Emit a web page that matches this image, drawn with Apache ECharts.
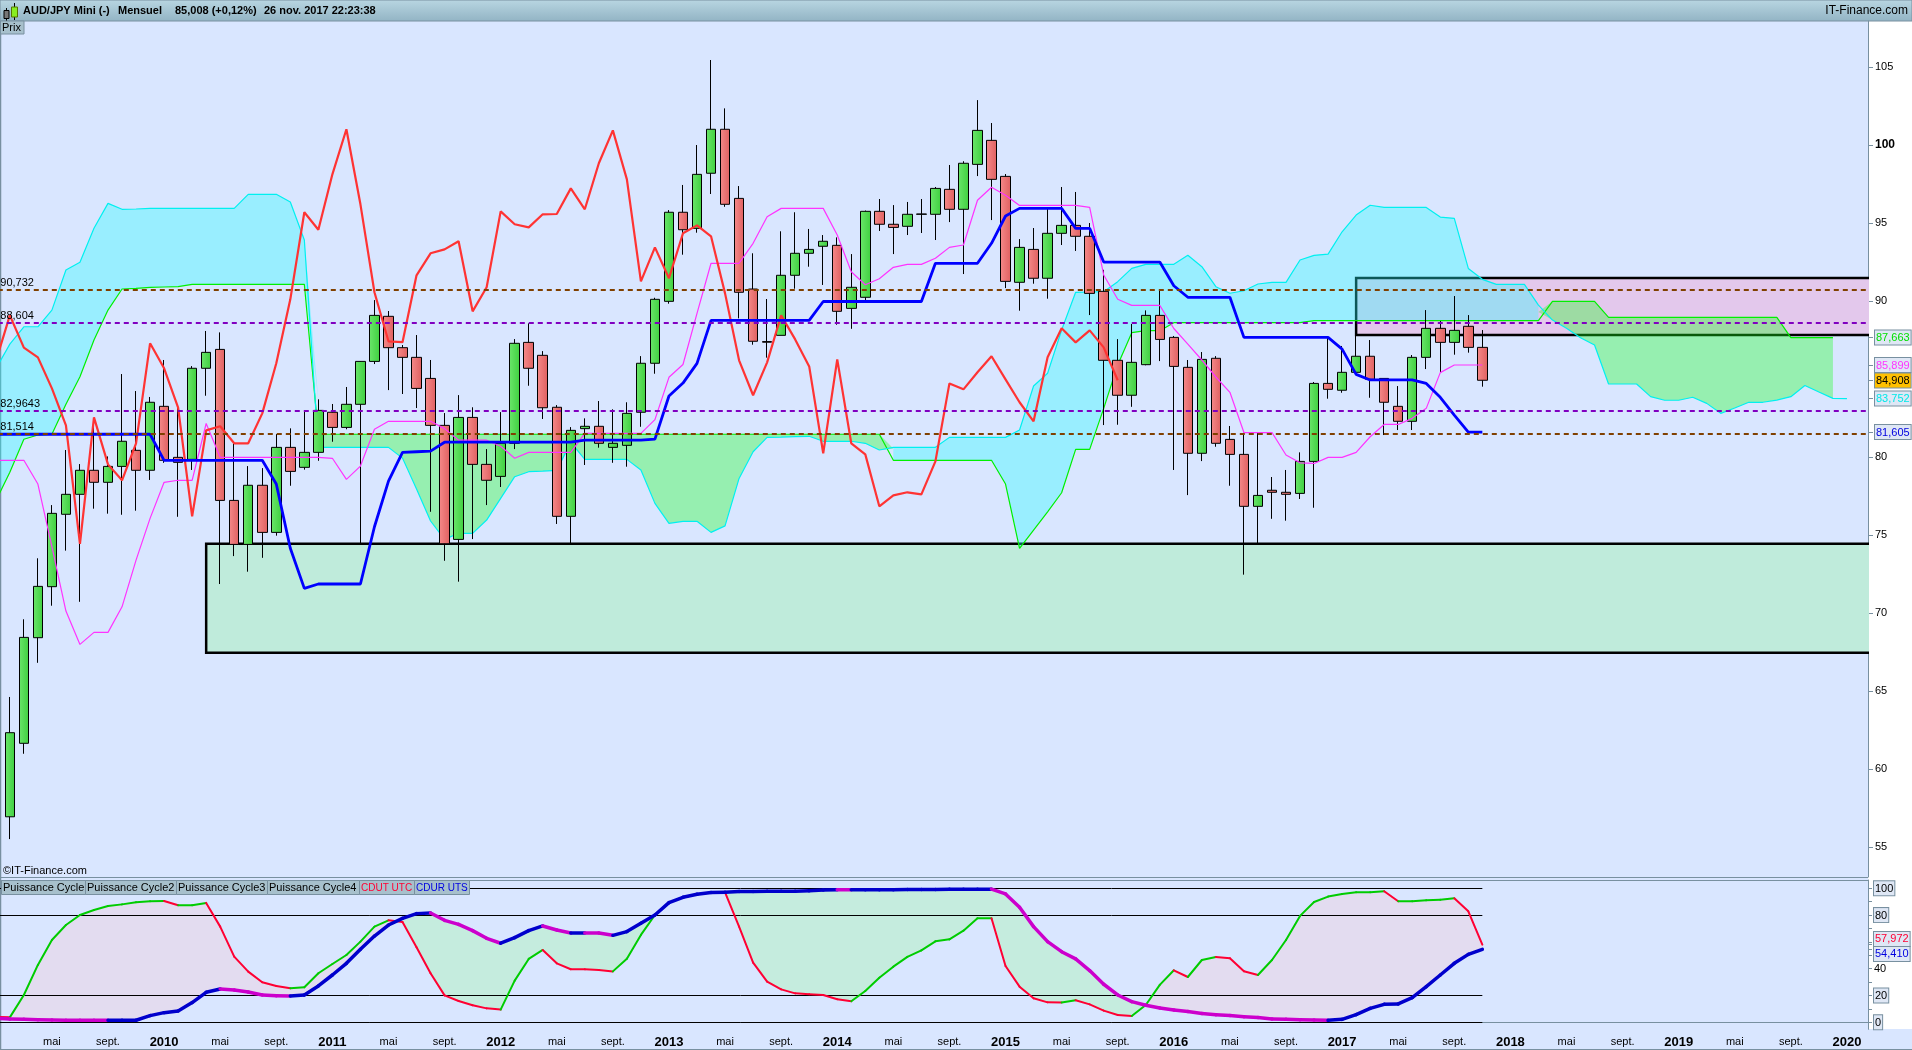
<!DOCTYPE html>
<html><head><meta charset="utf-8">
<style>html,body{margin:0;padding:0;background:#fff;overflow:hidden}#c{width:1912px;height:1050px}</style>
<script src="https://cdn.jsdelivr.net/npm/echarts@6/dist/echarts.min.js"></script>
</head><body><div id="c"></div>
<script>
// Month labels from Jan 2009 (first slot is just off the left edge) to Feb 2020
const firstYear = 2009, monthCount = 134;
const monthTickLabels = {0:'', 4:'mai', 8:'sept.'};

// Candles, one value per month from Feb 2009 to Nov 2017
const opens = [56.94,61.65,68.42,71.69,76.33,77.61,79.15,78.38,79.4,80.43,79.15,83.25,79.98,79.85,85.69,86.9,77.22,74.4,78.19,75.17,80.62,79.34,80.3,82.87,81.9,83.38,86.13,89.02,87.01,86.39,85.04,82.03,74.72,82.54,79.53,78.76,80.88,87.35,86.52,83.19,76.2,81.82,81.97,80.62,80.75,82.87,86.01,89.98,95.69,94.66,98.19,101.01,96.58,90.77,87.4,87.8,91.65,93.06,93.51,93.57,89.53,90.24,95.75,94.92,94.79,95.56,95.56,97.16,95.88,98.76,100.3,97.99,91.2,93.31,91.46,94.34,94.85,94.15,90.62,86.2,83.96,85.92,89.08,87.67,85.75,80.24,86.33,81.13,80.17,76.84,77.87,77.74,77.67,79.72,84.72,84.28,85.43,86.46,85.04,83.25,82.29,86.39,88.25,87.35,88.38,87.03];
const closes = [62.33,68.44,71.71,76.39,77.61,79.15,78.38,79.4,81.01,79.15,83.51,79.79,79.66,85.69,86.71,77.22,74.4,78.19,75.17,80.62,79.08,80.3,82.99,81.9,83.38,86.13,89.08,87.01,86.39,84.4,82.03,74.44,82.54,79.53,78.51,80.88,87.29,85.69,83.16,76.2,81.71,81.97,80.88,80.88,82.8,86.01,90.11,95.69,94.57,98.12,101.01,96.2,90.56,87.42,87.36,91.65,93.06,93.31,93.83,89.34,90.88,95.75,94.92,94.72,95.56,95.58,97.22,95.88,98.83,100.94,97.8,91.26,93.44,91.46,94.34,94.85,94.15,90.49,86.2,83.96,86.07,89.08,87.54,85.81,80.24,86.26,80.88,80.17,76.84,77.54,77.74,77.61,79.72,84.72,84.34,85.43,86.46,84.98,83.51,82.29,86.39,88.25,87.35,88.12,87.03,84.92];
const lows = [55.51,60.98,66.81,70.47,74,70.72,76.69,76.37,76.3,76.56,78.53,79.63,76.17,79.17,83.93,71.86,73.65,72.65,73.54,74.96,78.16,79.19,79.76,80.98,81.78,74.44,85.96,84.29,84.04,83.14,76.49,73.35,72.01,74.74,76.92,78.08,80.51,84.57,82.44,75.71,74.47,79.49,80.6,79.63,79.38,81.94,85.34,89.83,92.97,94.38,96.86,96.04,88.89,87.2,86.37,87.8,90.79,92.2,91.03,88.48,88.22,90.02,94.49,93.01,94.23,94.36,93.91,95.06,91.73,98.01,95.19,90.83,89.38,91.11,90.15,93.59,93.21,89.1,82.05,82.07,83.22,85.88,86.15,79.17,77.56,79.74,80.66,78.16,72.46,74.47,76.04,75.92,77.31,76.75,83.74,84.12,85.43,83.8,81.41,81.73,81.73,85.64,85.4,86.56,86.69,84.51];
const highs = [64.62,69.6,73.51,76.92,80.45,79.55,82.5,80.04,85.32,84.23,83.85,86.22,83.2,85.83,88.08,87.99,80.88,79.42,79.29,81.47,81.84,82.9,83.7,83.4,84.49,86.15,90.06,89.36,87.18,87.82,86.22,82.82,83.97,83.19,80.51,82.88,87.56,88.57,86.79,83.33,81.92,82.48,83.59,83.06,83.51,86.47,90.21,95.83,97.44,100,105.45,102.35,97.37,93.06,90.13,94.47,95.69,94.62,94.23,94.08,93.01,95.8,96.54,96.15,96.35,96.54,97.31,98.72,98.96,102.88,101.41,98.14,93.97,94.68,95.9,97.31,96.99,95,92,87.56,88.53,89.4,90.77,87.76,86.22,86.73,86.47,81.99,81.56,81.56,78.72,79.17,80.3,84.81,87.63,87.12,87.82,87.5,85.04,84.55,86.54,89.42,88.72,90.32,89.1,88.14];

// Indicator lines, starting at Jan 2009
const chikou = [86.13,89.08,87.01,86.39,84.4,82.03,74.44,82.54,79.53,78.51,80.88,87.29,85.69,83.16,76.2,81.71,81.97,80.88,80.88,82.8,86.01,90.11,95.69,94.57,98.12,101.01,96.2,90.56,87.42,87.36,91.65,93.06,93.31,93.83,89.34,90.88,95.75,94.92,94.72,95.56,95.58,97.22,95.88,98.83,100.94,97.8,91.26,93.44,91.46,94.34,94.85,94.15,90.49,86.2,83.96,86.07,89.08,87.54,85.81,80.24,86.26,80.88,80.17,76.84,77.54,77.74,77.61,79.72,84.72,84.34,85.43,86.46,84.98,83.51,82.29,86.39,88.25,87.35,88.12,87.03,84.92];
const tenkan = [79.79,79.79,79.79,78.27,74.25,70.13,67.99,68.76,68.76,70.4,73.39,76.07,78.38,78.51,78.51,82.15,79.98,79.98,79.98,79.98,79.98,79.98,79.98,79.98,79.92,78.57,79.42,81.78,82.29,82.29,82.29,82.29,81.82,81.08,81.08,81.08,80.69,79.92,80.3,80.3,80.3,80.3,81.52,81.52,81.52,81.52,81.52,82.4,85.11,85.93,89.21,92.42,92.42,92.42,93.7,95.4,95.94,95.94,95.94,95.94,94.23,91.88,91.04,91.43,92.16,92.35,92.35,92.74,93.44,93.59,96.46,97.29,96.78,96.13,96.13,96.13,96.13,96.13,96,91.67,90.11,89.72,89.72,89.72,88.24,87.24,86.22,85.13,84.15,81.57,81.57,81.57,80.13,79.63,79.59,79.98,79.98,80.3,81.3,82.09,82.09,82.48,83.12,85.41,85.9,85.9,85.9];
const kijun = [81.46,81.46,81.46,81.46,81.46,81.46,81.46,81.46,81.46,81.46,81.46,81.46,79.79,79.79,79.79,79.79,79.79,79.79,79.79,79.79,78.27,74.15,71.58,71.86,71.86,71.86,71.86,75.53,78.46,80.3,80.34,80.38,80.95,80.95,80.95,80.95,80.95,80.95,80.95,80.95,80.95,80.95,81.09,81.09,81.09,81.09,81.09,81.15,83.91,84.74,86,88.76,88.76,88.76,88.76,88.76,88.76,88.76,88.76,89.97,89.97,89.97,89.97,89.97,89.97,89.97,89.97,92.42,92.42,92.42,92.42,93.7,95.45,95.94,95.94,95.94,95.94,94.66,94.66,92.5,92.5,92.5,92.5,92.5,90.98,90.24,90.24,90.24,90.24,87.67,87.67,87.67,87.67,87.67,87.67,87.67,86.92,85.3,84.94,84.94,84.94,84.94,84.72,83.83,82.69,81.6,81.6];
const senkouA = [77.18,79.02,81.14,81.41,81.46,83.38,85.15,87.5,89.42,90.77,90.81,90.88,90.9,90.92,91.07,91.07,91.07,91.07,91.07,91.07,91.07,91.07,91.07,81.46,81.46,81.46,81.46,81.46,81.46,81.46,81.46,81.46,81.46,81.46,81.46,81.46,81.46,81.46,81.46,81.46,81.46,81.46,81.46,81.46,81.46,81.46,81.46,81.46,81.46,81.46,81.46,81.46,81.46,81.46,81.46,81.46,81.46,81.46,81.46,81.46,81.46,81.46,81.46,81.46,79.79,79.79,79.79,79.79,79.79,79.79,79.79,79.79,78.27,74.15,75.32,76.49,77.71,80.49,80.49,83.12,85.9,87.97,88.1,88.1,88.61,88.61,88.61,88.61,88.61,88.61,88.61,88.61,88.61,88.61,88.74,88.74,88.74,88.74,88.74,88.74,88.74,88.74,88.74,88.74,88.74,88.74,88.74,88.74,88.74,88.74,88.74,89.98,89.98,89.98,89.98,88.95,88.95,88.95,88.95,88.95,88.95,88.95,88.95,88.95,88.95,88.95,88.95,88.95,87.66,87.66,87.66,87.66];
const senkouB = [85.64,87.24,88.35,88.35,89.42,91.99,92.48,94.66,96.26,95.88,95.9,95.94,95.94,95.94,95.94,95.94,95.94,95.94,96.84,96.84,96.84,96.35,93.91,80.62,80.62,80.62,80.62,80.62,80.62,79.93,77.95,75.9,74.72,75.11,75.11,75.96,77.35,78.74,79.06,79.1,79.15,80.94,79.85,79.85,79.85,79.85,79.17,77.03,75.75,75.88,75.88,75.17,75.59,78.63,80.34,81.26,81.28,81.31,81.33,81.01,81.01,81.01,80.88,80.45,80.62,80.62,80.62,80.62,81.26,81.26,81.26,81.26,81.26,81.73,84.55,85.37,88.14,90.56,90.58,90.6,91.24,92.09,92.35,92.35,92.35,92.93,92.2,90.92,90.5,90.66,91.09,91.2,91.2,92.63,92.93,93.01,94.44,95.51,96.14,96,96,96,96,95.38,95.3,92.09,91.39,91.07,91.07,91.07,89.74,88.78,88.25,87.65,87.18,84.68,84.68,84.68,83.87,83.64,83.64,83.83,83.44,82.8,83.14,83.51,83.51,83.65,83.87,84.59,84.17,83.76,83.75];

// Support / resistance levels
const levelValues = [90.732,88.604,82.9643,81.514];
const levelLabels = ['90,732','88,604','82,9643','81,514'];
const levelColors = ['#804000','#8000c0','#8000c0','#804000'];

// Shaded zones: first month slot, top, bottom
const zoneStarts = [15,97];
const zoneTops = [74.44,91.47];
const zoneBottoms = [67.46,87.82];
const zoneFills = ['#bfebdb','#e3c8ec'];

// Oscillator lines, starting at Jan 2009
const cdut = [4.2,3.7,20.4,42.8,61.4,72.6,80.1,83.8,86.8,88,89.6,90.3,90.5,87.3,87.4,89.1,71.4,49,37.8,29.9,27.1,25.4,26.1,36.6,43.5,50.2,60.2,71.4,76.1,74.9,56,36.6,20.1,15.9,12.7,10.4,9.5,31.1,47.3,54,44,39.6,39.5,39,38,47.5,65.2,80.1,89.3,93.3,95.5,96.8,97,71.4,44.5,30.3,24.6,21.6,20.9,20.4,17.2,15.7,23.4,33.3,41.5,48.8,53.7,60.4,61.9,68.4,77.6,77.7,42,26.6,17.9,14.9,14.8,16.4,13.4,8.7,5.5,4.7,12.9,27.9,38.8,33.8,46.5,48.8,47.8,38.1,35.3,46.5,61.4,79.4,89.8,93.8,95.8,97,97.1,97.8,90.3,90.4,91,91.5,92.5,82.8,57.97];
const cdur = [3,2.5,2.2,1.9,1.7,1.6,1.55,1.5,1.45,1.5,1.55,5,7.2,8.5,14.7,22.4,24.9,24.1,22.6,20.4,19.8,19.7,20.4,27.1,35.3,44,54.5,64.4,72.6,77.6,81.1,81.6,76.1,73.1,68.4,62.7,59,63.2,68.4,71.9,68.9,66.6,66.7,66.6,64.9,67.7,73.9,80.1,89.3,93.3,95.5,96.8,97,97.6,97.7,97.75,97.8,97.85,98.1,98.7,98.9,98.85,98.9,98.95,99,99.05,99.1,99.15,99.2,99.25,99.3,99.35,95.8,85.8,71.4,60.2,52.7,47.3,38.6,28.4,20.4,15.4,12.7,10.7,9.2,8,6.5,5.7,5,4.2,3.5,2.5,2.2,1.9,1.7,1.5,2.2,5.7,10.4,13.4,13.7,18.4,26.6,35.3,44,50.7,54.41];
const oscLevels = [100,80,20,0];
const oscLastSlot = 106;

// Axis labels
const priceTicks = [105,100,95,90,80,75,70,65,60,55];
const priceTags = {87.663:['g','87,663'],85.899:['m','85,899'],84.908:['k','84,908'],83.752:['c','83,752'],81.605:['n','81,605']};
const oscTicks = [100,90,80,70,60,57.972,54.41,50,40,30,20,10,0];
const oscShown = {100:'b',80:'b',40:'p',20:'b',0:'b'};
// The two closing-value tags are pushed apart on the axis so both stay readable
const oscTags = {62.2:['r','57,972'],51:['n','54,410']};
const tabs = [['Puissance Cycle',1,84,'#000',11],['Puissance Cycle2',85,91,'#000',11],['Puissance Cycle3',176,91,'#000',11],['Puissance Cycle4',267,92,'#000',11],['CDUT UTC',359,55,'#ff0033',10],['CDUR UTS',414,55,'#0000e0',10]];

const FONT = '"Liberation Sans", Arial, sans-serif';
const BG = '#d9e6ff', EDGE = '#7890a0';
const categories = [];
for (let k = 0; k < monthCount; k++) categories.push((firstYear + Math.floor(k / 12)) + '-' + (k % 12));
const isTick = i => i > 0 && (i % 12) % 4 === 0;
const tickText = i => {
  const m = i % 12;
  return m === 0 ? '{y|' + (firstYear + i / 12) + '}' : monthTickLabels[m];
};
const ohlc = [['-','-','-','-']].concat(opens.map((o, i) => [o, closes[i], lows[i], highs[i]]));
const grad = (a, b) => new echarts.graphic.LinearGradient(0, 0, 1, 0, [{offset:0,color:a},{offset:1,color:b}]);
const desc = (a, b) => b - a;

// Fill between two series, split wherever they cross
function fillBetween(a, b, posFill, negFill, z, xi, yi) {
  return {
    type:'custom', xAxisIndex:xi, yAxisIndex:yi, z, silent:true, clip:true,
    data:[[0, a[0]]], encode:{x:0, y:1},
    renderItem(params, api) {
      const kids = [];
      let upper = [], lower = [], sign = 0;
      const flush = () => {
        if (upper.length > 1) kids.push({type:'polygon', silent:true,
          shape:{points: upper.concat(lower.slice().reverse()).map(p => api.coord(p))},
          style:{fill: sign > 0 ? posFill : negFill}});
      };
      const n = Math.min(a.length, b.length);
      for (let i = 0; i < n; i++) {
        const d = a[i] - b[i], s = d >= 0 ? 1 : -1;
        if (i === 0) sign = s;
        if (s !== sign) {
          const pd = a[i-1] - b[i-1], t = pd / (pd - d);
          const x = i - 1 + t, v = a[i-1] + (a[i] - a[i-1]) * t;
          upper.push([x, v]); lower.push([x, v]);
          flush(); upper = [[x, v]]; lower = [[x, v]]; sign = s;
        }
        upper.push([i, a[i]]); lower.push([i, b[i]]);
      }
      flush();
      return {type:'group', children:kids};
    }
  };
}
// Line whose colour follows its direction
function directional(vals, up, down, width, z) {
  return {
    type:'custom', xAxisIndex:1, yAxisIndex:1, z, silent:true, clip:true,
    data: vals.slice(0, -1).map((v, i) => [i, v, vals[i+1]]), encode:{x:0, y:1},
    renderItem(params, api) {
      const i = api.value(0), v0 = api.value(1), v1 = api.value(2);
      const p = api.coord([i, v0]), q = api.coord([i+1, v1]);
      return {type:'line', shape:{x1:p[0],y1:p[1],x2:q[0],y2:q[1]},
        style:{stroke: v1 > v0 ? up : down, lineWidth:width, lineCap:'round'}};
    }
  };
}
const zoneSeries = {
  type:'custom', xAxisIndex:0, yAxisIndex:0, z:1, silent:true, clip:true,
  data: zoneStarts.map((s, i) => [s, zoneTops[i], zoneBottoms[i], i]), encode:{x:0, y:1},
  renderItem(params, api) {
    const a = api.coord([api.value(0), api.value(1)]), b = api.coord([api.value(0), api.value(2)]);
    const cs = params.coordSys, right = cs.x + cs.width + 4; // right edge runs past the clip
    return {type:'rect', shape:{x:a[0], y:a[1], width:right - a[0], height:b[1] - a[1]},
      style:{fill:zoneFills[api.value(3)], stroke:'#000', lineWidth:2.5}};
  }
};
const line = (data, color, width, z) => ({type:'line', xAxisIndex:0, yAxisIndex:0, data, symbol:'none', z, silent:true,
  lineStyle:{color, width}, clip:true});

const box = (color, bg) => ({color, backgroundColor:bg||'#dfe7f5', borderColor:EDGE, borderWidth:1, padding:[2,1,1,1], fontSize:11, fontFamily:FONT});
const priceRich = {p:{color:'#000',fontSize:11,fontFamily:FONT}, b:{color:'#000',fontSize:12,fontWeight:'bold',fontFamily:FONT},
  g:box('#00e000'), m:box('#ff33ff'), k:box('#000','#ffc000'), c:box('#00e8e8'), n:box('#0000e0')};
const oscRich = {p:{color:'#000',fontSize:11,fontFamily:FONT}, b:box('#000'), r:box('#ff0033'), n:box('#0000e0')};

const chrome = [
  {type:'rect', z:-10, shape:{x:0,y:0,width:1912,height:1050}, style:{fill:'#fff'}},
  {type:'rect', z:-9, shape:{x:0,y:21,width:1868,height:1029}, style:{fill:BG}},
  {type:'rect', z:-9, shape:{x:1868,y:1029,width:44,height:21}, style:{fill:BG}},
  {type:'rect', z:-8, shape:{x:0,y:0,width:1912,height:21}, style:{fill:new echarts.graphic.LinearGradient(0,0,0,1,[{offset:0,color:'#b9d6e2'},{offset:1,color:'#92b4c4'}]), stroke:EDGE, lineWidth:1}},
  {type:'line', z:-7, shape:{x1:0.5,y1:21,x2:0.5,y2:1050}, style:{stroke:EDGE, lineWidth:1.5}},
  {type:'line', z:-7, shape:{x1:0,y1:877.5,x2:1868,y2:877.5}, style:{stroke:EDGE, lineWidth:1}},
  {type:'line', z:-7, shape:{x1:0,y1:880.5,x2:1868,y2:880.5}, style:{stroke:EDGE, lineWidth:1}},
  {type:'line', z:-7, shape:{x1:0,y1:1049.5,x2:1912,y2:1049.5}, style:{stroke:EDGE, lineWidth:1}},
  // header icon
  {type:'line', z:50, shape:{x1:6.5,y1:8,x2:6.5,y2:21}, style:{stroke:'#000',lineWidth:1}},
  {type:'rect', z:50, shape:{x:4,y:10.5,width:5,height:8}, style:{fill:'#777',stroke:'#000',lineWidth:1}},
  {type:'line', z:50, shape:{x1:14.5,y1:3,x2:14.5,y2:20}, style:{stroke:'#000',lineWidth:1}},
  {type:'rect', z:50, shape:{x:11.5,y:7,width:6,height:10}, style:{fill:'#88ee22',stroke:'#557700',lineWidth:1}},
];
const headerTexts = [['AUD/JPY Mini (-)',23],['Mensuel',118],['85,008 (+0,12%)',175],['26 nov. 2017 22:23:38',264]];
headerTexts.forEach(t => chrome.push({type:'text', z:50, style:{text:t[0], x:t[1], y:11, fill:'#000', font:'bold 11px '+FONT, verticalAlign:'middle'}}));
chrome.push({type:'text', z:50, style:{text:'IT-Finance.com', x:1908, y:11, fill:'#000', font:'12px '+FONT, align:'right', verticalAlign:'middle'}});
chrome.push({type:'rect', z:50, shape:{x:0.5,y:21,width:23.5,height:13}, style:{fill:'#a7c0cc', stroke:EDGE, lineWidth:1}});
chrome.push({type:'text', z:51, style:{text:'Prix', x:2, y:27.5, fill:'#000', font:'11px '+FONT, verticalAlign:'middle'}});
chrome.push({type:'text', z:51, style:{text:'©IT-Finance.com', x:3, y:871, fill:'#000', font:'11px '+FONT, verticalAlign:'middle'}});
tabs.forEach(t => {
  chrome.push({type:'rect', z:50, shape:{x:t[1]+0.5,y:880.5,width:t[2],height:14}, style:{fill:'#a7c0cc', stroke:EDGE, lineWidth:1}});
  chrome.push({type:'text', z:51, style:{text:t[0], x:t[1]+2, y:888, fill:t[3], font:t[4]+'px '+FONT, verticalAlign:'middle'}});
});

const priceLabelValues = priceTicks.concat(Object.keys(priceTags).map(Number)).sort(desc);
const oscLabelValues = Object.keys(oscShown).map(Number).concat(Object.keys(oscTags).map(Number)).sort(desc);

const chart = echarts.init(document.getElementById('c'), null, {renderer:'canvas', width:1912, height:1050});
chart.setOption({
  animation:false,
  backgroundColor:'#fff',
  tooltip:{show:false},
  graphic:{elements:chrome},
  grid:[
    {left:-11.2, width:1879.2, top:21, height:856, containLabel:false, outerBoundsMode:'none'},
    {left:-11.2, width:1879.2, top:880, height:149.3, containLabel:false, outerBoundsMode:'none'}
  ],
  xAxis:[
    {type:'category', gridIndex:0, data:categories, boundaryGap:true, show:false},
    {type:'category', gridIndex:1, data:categories, boundaryGap:true,
      axisLine:{lineStyle:{color:EDGE,width:1}},
      axisTick:{alignWithLabel:true, length:4, interval:i => isTick(i), lineStyle:{color:EDGE}},
      axisLabel:{interval:i => isTick(i), margin:7, hideOverlap:false, color:'#000', fontSize:11, fontFamily:FONT,
        formatter:(v, i) => tickText(i),
        rich:{y:{fontSize:13, fontWeight:'bold', color:'#000', fontFamily:FONT}}},
      splitLine:{show:false}}
  ],
  yAxis:[
    {type:'value', gridIndex:0, position:'right', min:53.08, max:107.95, scale:true,
      axisLine:{show:true, lineStyle:{color:EDGE}},
      axisTick:{show:true, length:5, lineStyle:{color:EDGE}, customValues:priceLabelValues},
      splitLine:{show:false},
      axisLabel:{show:true, margin:7, hideOverlap:false, showMinLabel:true, showMaxLabel:true, color:'#000', fontSize:11, fontFamily:FONT, rich:priceRich,
        customValues:priceLabelValues,
        formatter:v => priceTags[v] ? '{' + priceTags[v][0] + '|' + priceTags[v][1] + '}' : (v === 100 ? '{b|100}' : '{p|' + v + '}')}},
    {type:'value', gridIndex:1, position:'right', min:-5.22, max:106.19, scale:true,
      axisLine:{show:true, lineStyle:{color:EDGE}},
      axisTick:{show:true, length:4, lineStyle:{color:EDGE}, customValues:oscTicks},
      splitLine:{show:false},
      axisLabel:{show:true, margin:6, hideOverlap:false, showMinLabel:true, showMaxLabel:true, color:'#000', fontSize:11, fontFamily:FONT, rich:oscRich,
        customValues:oscLabelValues,
        formatter:v => oscTags[v] ? '{' + oscTags[v][0] + '|' + oscTags[v][1] + '}' : '{' + oscShown[v] + '|' + v + '}'}}
  ],
  series:[
    zoneSeries,
    fillBetween(senkouA, senkouB, 'rgba(26,255,29,0.35)', 'rgba(34,253,255,0.35)', 2, 0, 0),
    line(senkouA, '#00f000', 1.2, 3),
    line(senkouB, '#00f0f0', 1.2, 3),
    {type:'candlestick', xAxisIndex:0, yAxisIndex:0, data:ohlc, barWidth:10, z:4, silent:true, clip:true,
      itemStyle:{color:grad('#6be66b','#3fcf3f'), color0:grad('#f58a8a','#df6060'), borderColor:'#000', borderColor0:'#000', borderColorDoji:'#000', borderWidth:1}},
    line(tenkan, '#ff33ff', 1.2, 5),
    line(chikou, '#ff3333', 2.2, 6),
    line(kijun, '#0000ff', 2.8, 6),
    {type:'line', xAxisIndex:0, yAxisIndex:0, data:[], z:7, silent:true,
      markLine:{silent:true, symbol:'none', animation:false, z:7, precision:4,
        data: levelValues.map((v, i) => ({yAxis:v, lineStyle:{color:levelColors[i], type:[5,4], width:2},
          label:{show:true, position:'insideStartTop', distance:[11.5,1], formatter:levelLabels[i], color:'#000', fontSize:11, fontFamily:FONT}}))}},
    fillBetween(cdut, cdur, '#e3dcf0', '#c5ecde', 2, 1, 1),
    {type:'line', xAxisIndex:1, yAxisIndex:1, data:[], z:3, silent:true,
      markLine:{silent:true, symbol:'none', animation:false, z:3, label:{show:false},
        lineStyle:{color:'#000', type:'solid', width:1},
        data: oscLevels.map(v => [{coord:[0, v]}, {coord:[oscLastSlot, v]}])}},
    directional(cdut, '#00cc00', '#ff0033', 2, 4),
    directional(cdur, '#0000cc', '#cc00cc', 3.5, 5)
  ]
});
</script></body></html>
